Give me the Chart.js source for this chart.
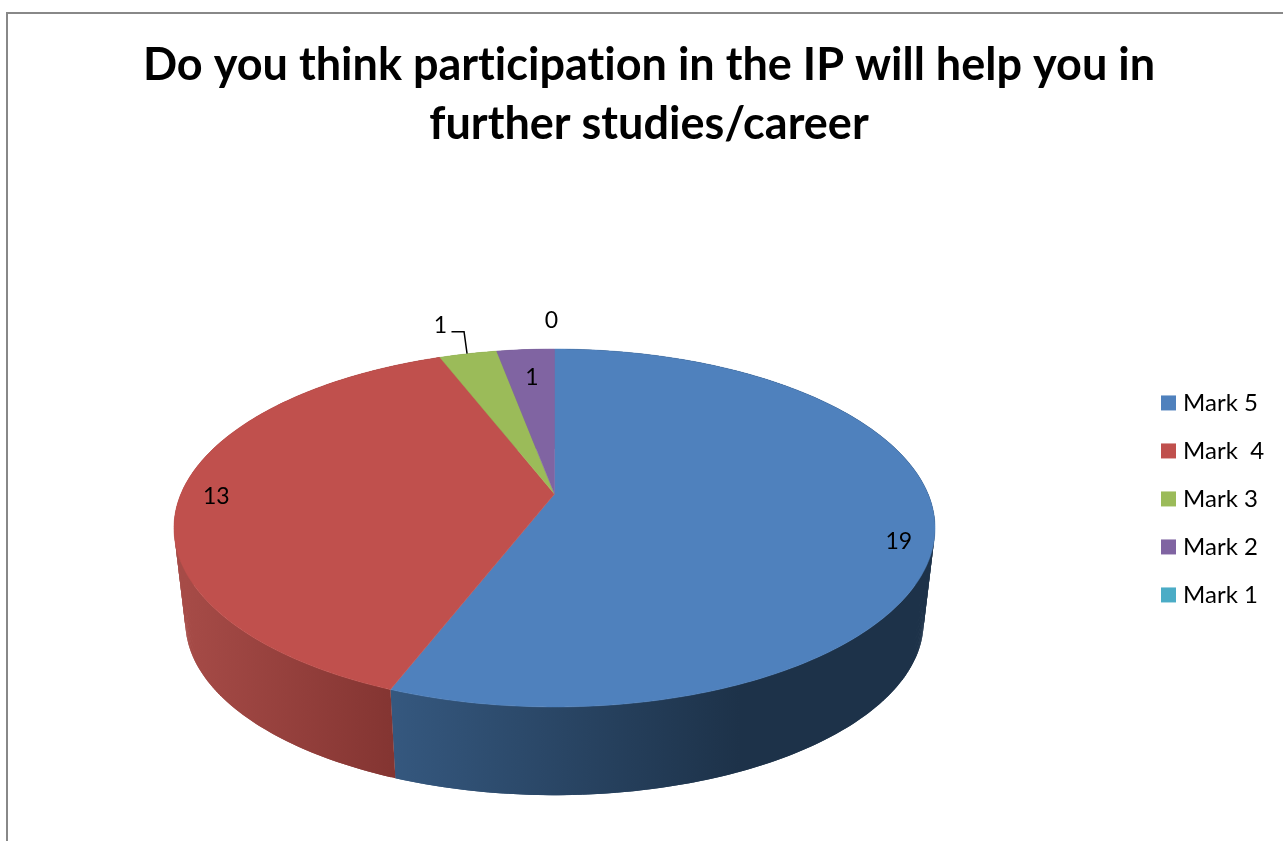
<!DOCTYPE html>
<html>
<head>
<meta charset="utf-8">
<title>Do you think participation in the IP will help you in further studies/career</title>
<script src="https://cdn.jsdelivr.net/npm/chart.js@4/dist/chart.umd.min.js"></script>
<style>
  html, body { margin: 0; padding: 0; background: #fff; overflow: hidden; }
  #frame { position: absolute; left: 6px; top: 12px; width: 1300px; height: 860px; border: 2px solid #888; }
  #myChart { position: absolute; left: 7px; top: 14px; }
</style>
</head>
<body>
<div id="frame"></div>
<canvas id="myChart" width="1284" height="827"></canvas>
<script>
// Chart data
const titleLines = ["Do you think participation in the IP will help you in", "further studies/career"];
const categories = ["Mark 5", "Mark  4", "Mark 3", "Mark 2", "Mark 1"];
const marks = [19, 13, 1, 1, 0];
const sliceColors = ["#4f81bd", "#c0504d", "#9bbb59", "#8064a2", "#4bacc6"];
const wallColors = [["#35587f", "#1d3249"], ["#a64b47", "#843532"], ["#7c9647", "#7c9647"], ["#665082", "#665082"], ["#3c8a9e", "#3c8a9e"]];
const wallRanges = [[391, 740], [185, 391], [440, 500], [500, 555], [554, 555]];

// Where each value label sits, relative to its slice's rim point at 90%
const labelNudges = [[3, 18], [-2, 3], [-35, -40], [4, 16], [-3, -41]];
const leaderSlice = 2;

// The flat pie is projected onto a tilted disc (canvas is offset by 7,14 from the page)
const tilt = 0.19;
const topDisc = { x: 547.5, y: 480, a: 373.6, b: 172.5 };
const bottomDisc = { x: 547.5, y: 575, a: 362.4, b: 167 };
const fontName = "Lato, Carlito, 'Open Sans', sans-serif";

function project(disc, angle, r) {
    const u = r * Math.cos(angle);
    const v = r * Math.sin(angle);
    const w = 1 - tilt * v;
    return { x: disc.x + disc.a * u / w, y: disc.y + disc.b * v / w };
}

function traceRim(ctx, disc, from, to) {
    const steps = Math.max(2, Math.ceil(Math.abs(to - from) * 90));
    for (let i = 0; i <= steps; i++) {
        const p = project(disc, from + (to - from) * i / steps, 1);
        ctx.lineTo(p.x, p.y);
    }
}

const tiltedPie = {
    id: "tiltedPie",
    beforeDraw(chart) {
        // keeps Lato from joining "ti" into a ligature
        chart.ctx.letterSpacing = "0.01px";
    },
    beforeDatasetDraw(chart, args) {
        const ctx = chart.ctx;
        const arcs = chart.getDatasetMeta(args.index).data;
        ctx.save();

        // side walls first, the top face hides the back ones
        arcs.forEach(function (arc, i) {
            if (arc.endAngle - arc.startAngle <= 0) return;
            const grad = ctx.createLinearGradient(wallRanges[i][0] - 7, 0, wallRanges[i][1] - 7, 0);
            grad.addColorStop(0, wallColors[i][0]);
            grad.addColorStop(1, wallColors[i][1]);
            ctx.fillStyle = grad;
            // small overlapping quads so the outline follows the disc edges
            const steps = Math.ceil((arc.endAngle - arc.startAngle) * 90);
            const da = (arc.endAngle - arc.startAngle) / steps;
            for (let s = 0; s < steps; s++) {
                const a0 = arc.startAngle + s * da;
                const a1 = Math.min(a0 + 2 * da, arc.endAngle);
                const p0 = project(topDisc, a0, 1);
                const p1 = project(topDisc, a1, 1);
                const q1 = project(bottomDisc, a1, 1);
                const q0 = project(bottomDisc, a0, 1);
                ctx.beginPath();
                ctx.moveTo(p0.x, p0.y);
                ctx.lineTo(p1.x, p1.y);
                ctx.lineTo(q1.x, q1.y);
                ctx.lineTo(q0.x, q0.y);
                ctx.closePath();
                ctx.fill();
            }
        });

        // top face
        arcs.forEach(function (arc, i) {
            if (arc.endAngle - arc.startAngle <= 0) return;
            ctx.beginPath();
            ctx.moveTo(topDisc.x, topDisc.y);
            traceRim(ctx, topDisc, arc.startAngle, arc.endAngle);
            ctx.closePath();
            ctx.fillStyle = sliceColors[i];
            ctx.strokeStyle = sliceColors[i];
            ctx.lineWidth = 0.5;
            ctx.fill();
            ctx.stroke();
        });

        // value labels
        ctx.fillStyle = "#000";
        ctx.font = "23px " + fontName;
        ctx.textAlign = "center";
        ctx.textBaseline = "middle";
        arcs.forEach(function (arc, i) {
            const mid = (arc.startAngle + arc.endAngle) / 2;
            const p = project(topDisc, mid, 0.9);
            const lx = p.x + labelNudges[i][0];
            const ly = p.y + labelNudges[i][1];
            ctx.fillText(String(marks[i]), lx, ly);
            if (i === leaderSlice) {
                const rim = project(topDisc, mid, 1);
                ctx.beginPath();
                ctx.moveTo(lx + 11, ly + 6);
                ctx.lineTo(rim.x - 4, ly + 6);
                ctx.lineTo(rim.x - 1, rim.y);
                ctx.strokeStyle = "#000";
                ctx.lineWidth = 1.5;
                ctx.stroke();
            }
        });

        ctx.restore();
        return false;
    }
};

const ctx = document.getElementById("myChart").getContext("2d");
const myChart = new Chart(ctx, {
    type: "pie",
    data: {
        labels: categories,
        datasets: [{
            data: marks,
            backgroundColor: sliceColors,
            borderWidth: 0
        }]
    },
    options: {
        responsive: false,
        animation: false,
        layout: { padding: { left: 17, right: 17, bottom: 0 } },
        plugins: {
            tooltip: { enabled: false },
            title: {
                display: true,
                text: titleLines,
                color: "#000",
                font: { family: fontName, size: 45, weight: "bold", lineHeight: 1.31 },
                padding: { top: 22, bottom: 3 }
            },
            legend: {
                position: "right",
                fullSize: false,
                labels: {
                    color: "#000",
                    font: { family: fontName, size: 24 },
                    usePointStyle: true,
                    pointStyle: "rect",
                    boxWidth: 5,
                    boxHeight: 15,
                    padding: 24
                }
            }
        }
    },
    plugins: [tiltedPie]
});
</script>
</body>
</html>
